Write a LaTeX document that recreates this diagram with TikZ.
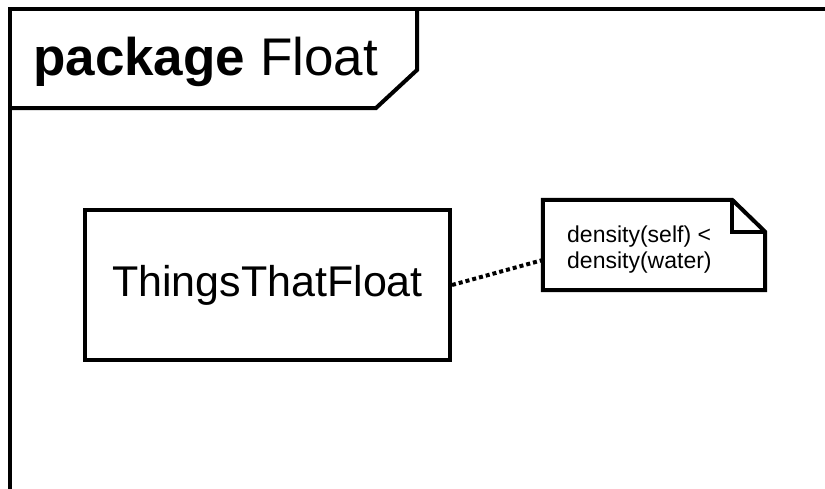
\documentclass[tikz,border=0pt]{standalone}
\usepackage{fontspec}
\setmainfont{Liberation Sans}
\usetikzlibrary{calc}
\begin{document}
\begin{tikzpicture}[x=1pt,y=-1pt,
  umlline/.style={line width=4pt, line join=miter},
  classbox/.style={draw, line width=4pt, minimum width=365pt, minimum height=150pt,
    inner sep=0pt, font=\fontsize{43}{50}\selectfont},
  notebody/.style={minimum width=222pt, minimum height=90pt, inner sep=0pt},
  notetext/.style={font=\fontsize{23}{26}\selectfont, align=left, inner sep=0pt},
  link/.style={line width=4pt, dash pattern=on 4pt off 3pt}]
  \useasboundingbox (0,0) rectangle (825,488);
  \begin{scope}
    \clip (0,0) rectangle (825,488);
    % package frame, open to the right and bottom
    \draw[umlline] (10,500) -- (10,9) -- (840,9);
    % name tab
    \draw[umlline] (10,108) -- (376,108) -- (417,70) -- (417,9);
  \end{scope}
  \node[anchor=base west, inner sep=0pt, font=\fontsize{53}{60}\selectfont] (title)
    at (33,75) {\textbf{package} Float};
  % class
  \node[classbox] (cls) at (267.5,285) {ThingsThatFloat};
  % note with folded corner
  \node[notebody] (note) at (654,245) {};
  \draw[umlline] (note.north west) -- ($(note.north east)+(-33,0)$)
    -- ($(note.north east)+(0,32)$) -- (note.south east) -- (note.south west) -- cycle;
  \draw[umlline] ($(note.north east)+(-33,0)$) -- ($(note.north east)+(-33,32)$)
    -- ($(note.north east)+(0,32)$);
  \node[notetext, anchor=base west] (notetxt) at (567,268)
    {density(self) <\\density(water)};
  % anchor link
  \coordinate (linkend) at ($(note.west)+(0,15)$);
  \draw[link] (cls.east) -- (linkend);
\end{tikzpicture}
\end{document}
